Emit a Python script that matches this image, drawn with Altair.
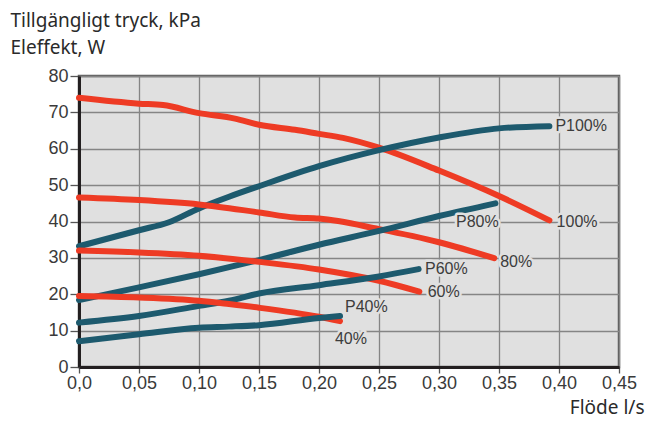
import altair as alt
import pandas as pd

# ---- data ----
series_names = ["100%", "P100%", "80%", "P80%", "60%", "P60%", "40%", "P40%"]
series_kind = ["tryck", "effekt", "tryck", "effekt", "tryck", "effekt", "tryck", "effekt"]

x_100 = [0.0, 0.05, 0.07, 0.10, 0.13, 0.15, 0.18, 0.20, 0.22, 0.25, 0.30, 0.35, 0.392]
y_100 = [74.0, 72.4, 72.0, 69.8, 68.3, 66.6, 65.2, 64.1, 63.0, 60.3, 54.0, 47.0, 40.3]

x_p100 = [0.0, 0.05, 0.075, 0.10, 0.125, 0.15, 0.20, 0.25, 0.30, 0.35, 0.392]
y_p100 = [33.2, 37.6, 39.8, 43.6, 46.8, 49.7, 55.2, 59.6, 63.1, 65.6, 66.2]

x_80 = [0.0, 0.05, 0.10, 0.15, 0.18, 0.20, 0.25, 0.30, 0.346]
y_80 = [46.6, 45.9, 44.7, 42.5, 41.1, 40.8, 37.9, 34.3, 29.9]

x_p80 = [0.0, 0.05, 0.10, 0.15, 0.20, 0.25, 0.30, 0.347]
y_p80 = [18.4, 21.9, 25.5, 29.4, 33.6, 37.4, 41.5, 45.0]

x_60 = [0.0, 0.05, 0.10, 0.15, 0.20, 0.25, 0.2836]
y_60 = [32.0, 31.5, 30.6, 28.9, 26.8, 23.7, 20.7]

x_p60 = [0.0, 0.05, 0.10, 0.125, 0.15, 0.20, 0.25, 0.283]
y_p60 = [12.2, 14.0, 16.8, 18.2, 20.2, 22.5, 24.9, 26.9]

x_40 = [0.0, 0.05, 0.10, 0.125, 0.15, 0.20, 0.2175]
y_40 = [19.5, 19.1, 18.2, 17.3, 16.3, 13.8, 12.6]

x_p40 = [0.0, 0.05, 0.10, 0.125, 0.15, 0.20, 0.2175]
y_p40 = [7.1, 9.0, 10.8, 11.1, 11.5, 13.5, 14.0]

series_x = [x_100, x_p100, x_80, x_p80, x_60, x_p60, x_40, x_p40]
series_y = [y_100, y_p100, y_80, y_p80, y_60, y_p60, y_40, y_p40]

label_text = ["P100%", "100%", "P80%", "80%", "P60%", "60%", "P40%", "40%"]
label_x = [0.397, 0.398, 0.3142, 0.351, 0.2883, 0.2906, 0.2217, 0.2133]
label_y = [66.3, 40.0, 40.0, 28.9, 27.0, 20.6, 16.6, 7.6]

x_ticks = [0, 0.05, 0.10, 0.15, 0.20, 0.25, 0.30, 0.35, 0.40, 0.45]
y_ticks = [0, 10, 20, 30, 40, 50, 60, 70, 80]

RED = "#ee3b24"
TEAL = "#1d5a6e"
BG = "#e0e0e0"

rows = []
for name, kind, xs, ys in zip(series_names, series_kind, series_x, series_y):
    for i, (xv, yv) in enumerate(zip(xs, ys)):
        rows.append({"serie": name, "typ": kind, "x": xv, "y": yv, "ordning": i})
df = pd.DataFrame(rows)

labels = pd.DataFrame({"text": label_text, "x": label_x, "y": label_y})

x_scale = alt.Scale(domain=[0, 0.45], nice=False, zero=True)
y_scale = alt.Scale(domain=[0, 80], nice=False)

x_axis = alt.Axis(
    values=x_ticks,
    labelExpr="datum.value == 0 ? '0,0' : replace(format(datum.value, '.2f'), '.', ',')",
    title="Flöde l/s", titleAngle=0, titleAlign="right", titleBaseline="alphabetic",
    titleX=565, titleY=46,
)
y_axis = alt.Axis(
    values=y_ticks,
    title=["Tillgängligt tryck, kPa", "Eleffekt, W"], titleAngle=0,
    titleAlign="left", titleBaseline="alphabetic", titleX=-69, titleY=-50,
    titleLineHeight=27,
)

x_enc = alt.X("x:Q", scale=x_scale, axis=x_axis)
y_enc = alt.Y("y:Q", scale=y_scale, axis=y_axis)

lines = alt.Chart(df).mark_line(
    strokeWidth=6, strokeCap="round", strokeJoin="round", interpolate="monotone"
).encode(
    x=x_enc, y=y_enc,
    color=alt.Color("typ:N", scale=alt.Scale(domain=["tryck", "effekt"], range=[RED, TEAL]), legend=None),
    detail="serie:N",
    order="ordning:Q",
)

halo = alt.Chart(labels).mark_text(
    align="left", baseline="middle", font="Liberation Sans", fontSize=16,
    stroke=BG, strokeWidth=5, fill=BG, strokeJoin="round",
).encode(x=x_enc, y=y_enc, text="text:N")

texts = alt.Chart(labels).mark_text(
    align="left", baseline="middle", font="Liberation Sans", fontSize=16, color="#3c3c3c",
).encode(x=x_enc, y=y_enc, text="text:N")

chart = alt.layer(lines, halo, texts).properties(
    width=540, height=291,
    background="white",
    autosize=alt.AutoSizeParams(type="none"),
    padding={"left": 71, "top": 68, "right": 26, "bottom": 51},
).configure_view(
    fill=BG, stroke="#5e5e5e", strokeWidth=2.5,
).configure_axis(
    titleFont="Noto Sans", titleFontSize=19, titleFontWeight="normal", titleColor="#2a2a2a",
    grid=True, gridColor="#858585", gridWidth=1.3,
    domainColor="#231f20", domainWidth=3,
    tickColor="#555555", tickWidth=1.3,
    labelFont="Liberation Sans", labelFontSize=18, labelColor="#3a3a3a",
    labelFlush=False, labelOverlap=False,
).configure_axisX(
    tickSize=6, labelPadding=1,
).configure_axisY(
    tickSize=9, labelPadding=2,
)

chart.save("out.html", embed_options={"renderer": "svg", "actions": False})
